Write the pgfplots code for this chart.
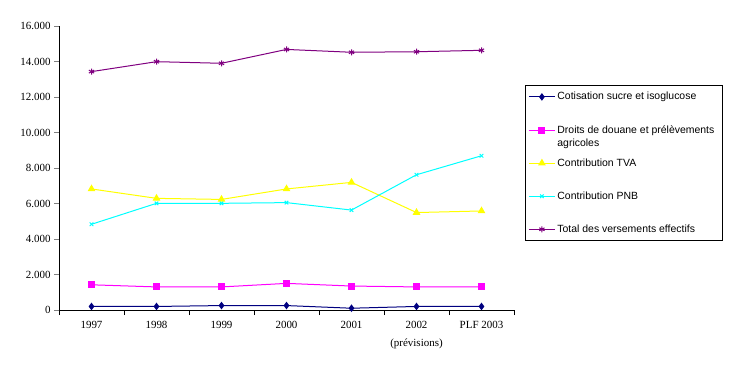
\documentclass[border=0pt]{standalone}
\usepackage{pgfplots}
\pgfplotsset{compat=1.18}
\usepackage{fontspec}
\setmainfont{Liberation Serif}
\newfontfamily\legfont{Liberation Sans}
\definecolor{cnavy}{RGB}{0,0,128}
\definecolor{cmag}{RGB}{255,0,255}
\definecolor{cyel}{RGB}{255,255,0}
\definecolor{ccyan}{RGB}{0,255,255}
\definecolor{cpurp}{RGB}{128,0,128}
\begin{document}
\begin{tikzpicture}
\path[use as bounding box] (0,0) rectangle (733bp,-367bp);
\begin{axis}[
  at={(59bp,-310bp)}, anchor=south west,
  scale only axis, width=455bp, height=284bp,
  xmin=-0.5, xmax=6.5, ymin=0, ymax=16000,
  axis x line*=bottom, axis y line*=left,
  axis line style={-, line width=1bp},
  xtick={0,...,6},
  xticklabels={1997,1998,1999,2000,2001,{2002\\(prévisions)},PLF 2003},
  xticklabel style={align=center, font=\fontsize{11}{17.5}\selectfont, yshift=-3bp},
  xtick style={draw=none},
  extra x ticks={-0.5,0.5,...,6.5},
  extra x tick labels={},
  extra x tick style={xtick style={draw=black, line width=0.8bp}},
  ytick={0,2000,...,16000},
  ytick style={line width=0.8bp},
  yticklabel style={font=\fontsize{11}{13}\selectfont},
  tick align=outside, major tick length=5bp,
  scaled y ticks=false,
  /pgf/number format/1000 sep={.},
  /pgf/number format/assume math mode=true,
  clip=false,
  legend cell align=left,
  legend image code/.code={\draw[mark repeat=2,mark phase=2,#1] plot coordinates {(0bp,0bp)(13bp,0bp)(26bp,0bp)};},
  legend style={at={(axis description cs:1.0242,0.7923)}, anchor=north west,
    draw=black, line width=0.8bp, inner xsep=3bp, inner ysep=5bp,
    font=\legfont\fontsize{10.5}{13}\selectfont, row sep=20bp,
    every even column/.append style={text width=160bp}},
]
\addplot[cnavy, line width=1bp, mark=diamond*, mark size=3bp, mark options={fill=cnavy}]
  coordinates {(0,200)(1,200)(2,250)(3,250)(4,100)(5,200)(6,200)};
\addlegendentry{Cotisation sucre et isoglucose}
\addplot[cmag, line width=1bp, mark=square*, mark size=3bp, mark options={fill=cmag}]
  coordinates {(0,1420)(1,1300)(2,1300)(3,1500)(4,1350)(5,1300)(6,1300)};
\addlegendentry{\raisebox{0pt}[\height][0pt]{\parbox[t]{160bp}{Droits de douane et prélèvements\\agricoles}}}
\addplot[cyel, line width=1bp, mark=triangle*, mark size=3.5bp, mark options={fill=cyel}]
  coordinates {(0,6820)(1,6290)(2,6230)(3,6820)(4,7190)(5,5490)(6,5580)};
\addlegendentry{Contribution TVA}
\addplot[ccyan, line width=1bp, mark=x, mark size=2.5bp]
  coordinates {(0,4830)(1,6010)(2,6010)(3,6050)(4,5630)(5,7620)(6,8690)};
\addlegendentry{Contribution PNB}
\addplot[cpurp, line width=1bp, mark=asterisk, mark size=3bp]
  coordinates {(0,13430)(1,13990)(2,13900)(3,14680)(4,14520)(5,14550)(6,14630)};
\addlegendentry{Total des versements effectifs\rule[-14bp]{0pt}{0pt}}
\end{axis}
\end{tikzpicture}
\end{document}
